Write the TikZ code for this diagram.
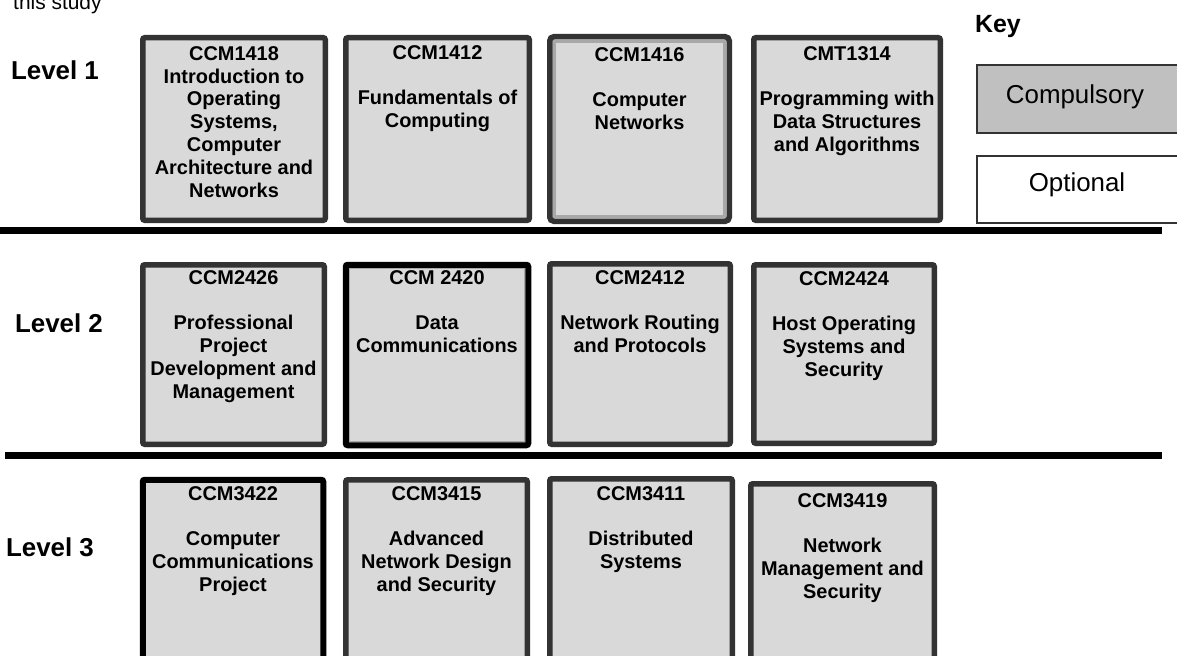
\documentclass[tikz,border=0pt]{standalone}
\usepackage{fontspec}
\setmainfont{Liberation Sans}
\definecolor{boxfill}{HTML}{D9D9D9}
\definecolor{boxline}{HTML}{333333}
\definecolor{innerline}{HTML}{A8A8A8}
\definecolor{keyfill}{HTML}{C0C0C0}
\newcommand\bw{5.5}
% course box given by its outer edges: name, style, x1, y1, x2, y2
\newcommand\coursebox[6]{%
  \node[#2, anchor=north west,
        minimum width={(#5-#3-\bw)*1bp}, minimum height={(#6-#4-\bw)*1bp}]
        (#1) at ({#3+\bw/2},{#4+\bw/2}) {};}
\begin{document}
\begin{tikzpicture}[x=1bp,y=-1bp,
  modbox/.style={draw=boxline, line width=\bw bp, fill=boxfill, rounded corners=2bp,
                 inner sep=0pt, outer sep=0pt},
  strongbox/.style={modbox, draw=black, line width=6bp},
  modtext/.style={font=\fontsize{20}{23}\selectfont\bfseries, align=center, inner sep=0pt},
  levellabel/.style={font=\fontsize{26}{30}\selectfont\bfseries, inner sep=0pt},
  keybox/.style={draw=boxline, line width=1.5bp, inner sep=0pt, outer sep=0pt},
  keytext/.style={font=\fontsize{26}{30}\selectfont, inner sep=0pt},
  divider/.style={line width=7bp, black}]
\useasboundingbox (0,0) rectangle (1177,656);

% caption fragment at the top edge
\node[font=\fontsize{21}{24}\selectfont, inner sep=0pt, anchor=base west] (cap) at (13,10) {this study};

% key
\node[font=\fontsize{25}{28}\selectfont\bfseries, inner sep=0pt] (key) at (998,27) {Key};
\node[keybox, fill=keyfill, anchor=north west, minimum width=220bp, minimum height=68bp] (kcomp) at (977,65) {};
\node[keytext] (kcomptext) at (1075,97) {Compulsory};
\node[keybox, fill=white, anchor=north west, minimum width=220bp, minimum height=67bp] (kopt) at (977,156) {};
\node[keytext] (kopttext) at (1077,185) {Optional};

% level labels
\node[levellabel] (l1) at (55,70) {Level 1};
\node[levellabel] (l2) at (59,323) {Level 2};
\node[levellabel] (l3) at (50,547) {Level 3};

% ---- level 1 ----
\coursebox{m1418}{modbox}{140}{35}{328}{223}
\coursebox{m1412}{modbox}{343}{35}{532}{223}
\coursebox{m1416}{modbox, rounded corners=4bp}{547}{34}{732}{224}
\draw[innerline, line width=3bp] ([shift={(4.5,4.5)}]m1416.north west) rectangle ([shift={(-4.5,-4.5)}]m1416.south east);
\coursebox{m1314}{modbox}{751}{35}{943}{223}

\node[modtext, anchor=north] (t1418) at (234,46) {CCM1418\\Introduction to\\Operating\\Systems,\\Computer\\Architecture and\\Networks};
\node[modtext, anchor=north] (t1412) at (437.5,45) {CCM1412\\[23pt]Fundamentals of\\Computing};
\node[modtext, anchor=north] (t1416) at (639.5,47) {CCM1416\\[23pt]Computer\\Networks};
\node[modtext, anchor=north] (t1314) at (847,46) {CMT1314\\[23pt]Programming with\\Data Structures\\and Algorithms};

% ---- divider 1 ----
\coordinate (d1a) at (0,230.5);
\coordinate (d1b) at (1162,230.5);
\draw[divider] (d1a) -- (d1b);

% ---- level 2 ----
\coursebox{m2426}{modbox}{140}{262}{327}{447}
\coursebox{m2420}{strongbox}{343}{262}{531}{448}
\draw[innerline, line width=1bp] ([shift={(3.5,3.5)}]m2420.north west) rectangle ([shift={(-3.5,-3.5)}]m2420.south east);
\coursebox{m2412}{modbox}{547}{261}{733}{447}
\coursebox{m2424}{modbox}{751}{262}{937}{446}

\node[modtext, anchor=north] (t2426) at (233.5,270) {CCM2426\\[23pt]Professional\\Project\\Development and\\Management};
\node[modtext, anchor=north] (t2420) at (437,270) {CCM 2420\\[23pt]Data\\Communications};
\node[modtext, anchor=north] (t2412) at (640,270) {CCM2412\\[23pt]Network Routing\\and Protocols};
\node[modtext, anchor=north] (t2424) at (844,271) {CCM2424\\[23pt]Host Operating\\Systems and\\Security};

% ---- divider 2 ----
\coordinate (d2a) at (5,455.5);
\coordinate (d2b) at (1162,455.5);
\draw[divider] (d2a) -- (d2b);

% ---- level 3 (boxes run past the lower edge) ----
\coursebox{m3422}{strongbox}{140}{477}{326}{690}
\coursebox{m3415}{modbox}{343}{477}{530}{690}
\coursebox{m3411}{modbox}{547}{476}{735}{690}
\coursebox{m3419}{modbox}{748}{481}{937}{690}

\node[modtext, anchor=north] (t3422) at (233,486) {CCM3422\\[23pt]Computer\\Communications\\Project};
\node[modtext, anchor=north] (t3415) at (436.5,486) {CCM3415\\[23pt]Advanced\\Network Design\\and Security};
\node[modtext, anchor=north] (t3411) at (641,486) {CCM3411\\[23pt]Distributed\\Systems};
\node[modtext, anchor=north] (t3419) at (842.5,493) {CCM3419\\[23pt]Network\\Management and\\Security};
\end{tikzpicture}
\end{document}
